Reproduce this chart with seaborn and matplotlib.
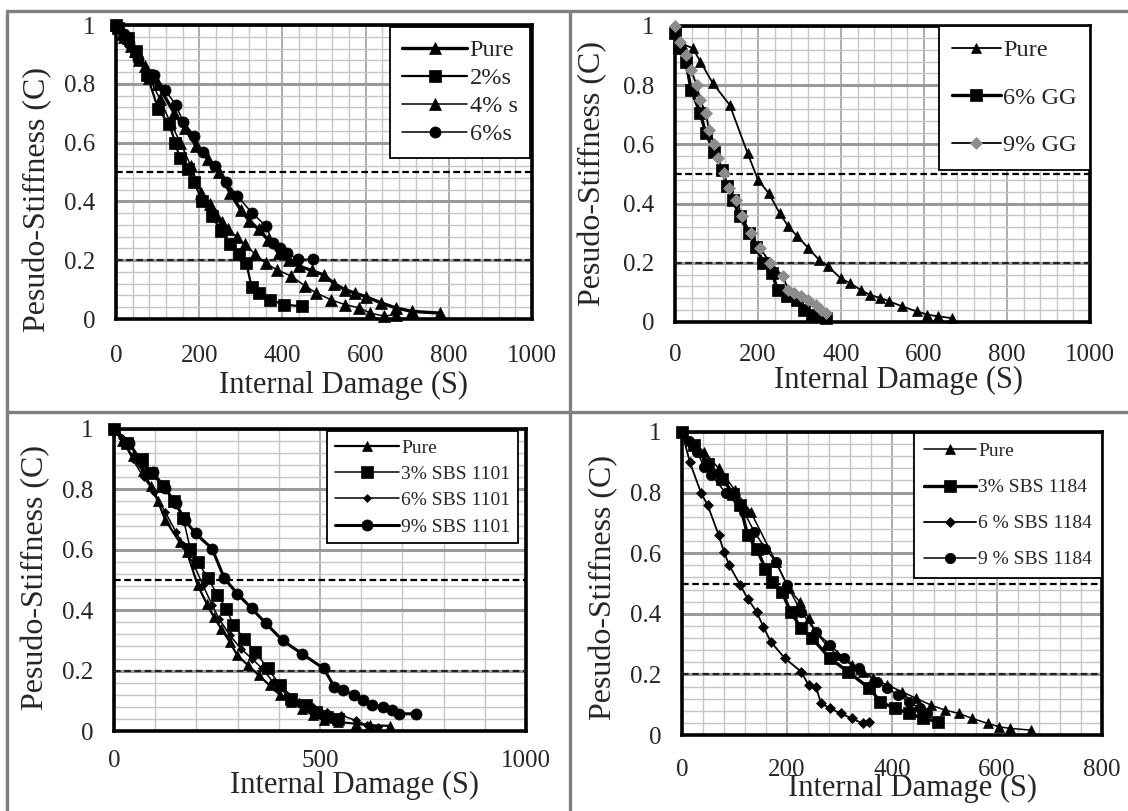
import matplotlib
matplotlib.use("Agg")
import matplotlib.pyplot as plt
from matplotlib.lines import Line2D
from matplotlib.ticker import MultipleLocator, FuncFormatter
import seaborn as sns

# ----------------------------
# DATA
# ----------------------------

# panel 1 : sulfur
p1_pure_x = [0, 20, 45, 70, 100, 140, 165, 192, 220, 248, 274, 300, 320, 343, 365, 391, 415, 440,
             470, 499, 525, 550, 575, 602, 637, 672, 711, 780]
p1_pure_y = [1.0, 0.96, 0.91, 0.86, 0.80, 0.70, 0.65, 0.59, 0.545, 0.50, 0.43, 0.37, 0.335, 0.305,
             0.27, 0.225, 0.20, 0.18, 0.165, 0.15, 0.12, 0.10, 0.088, 0.075, 0.055, 0.038, 0.026, 0.02]
p1_2s_x = [0, 6, 28, 49, 75, 101, 127, 143, 153, 172, 188, 207, 231, 252, 274, 295, 313, 326, 343,
           369, 404, 447]
p1_2s_y = [1.0, 0.99, 0.955, 0.91, 0.83, 0.715, 0.664, 0.60, 0.547, 0.51, 0.467, 0.40, 0.35, 0.30,
           0.254, 0.22, 0.19, 0.11, 0.089, 0.066, 0.049, 0.043]
p1_4s_x = [0, 15, 35, 55, 80, 105, 130, 155, 180, 205, 225, 240, 255, 270, 290, 309, 335, 360, 386,
           421, 455, 481, 516, 550, 585, 611, 645, 672]
p1_4s_y = [1.0, 0.97, 0.93, 0.88, 0.82, 0.75, 0.67, 0.60, 0.52, 0.43, 0.39, 0.353, 0.33, 0.305, 0.28,
           0.254, 0.22, 0.19, 0.168, 0.146, 0.112, 0.089, 0.066, 0.049, 0.038, 0.02, 0.01, 0.015]
p1_6s_x = [0, 19, 32, 54, 92, 118, 144, 162, 188, 209, 239, 265, 291, 326, 360, 378, 395, 412, 438, 473]
p1_6s_y = [1.0, 0.97, 0.94, 0.886, 0.83, 0.78, 0.727, 0.67, 0.624, 0.567, 0.52, 0.465, 0.42, 0.362,
           0.317, 0.26, 0.24, 0.225, 0.203, 0.203]

# panel 2 : GG
p2_pure_x = [0, 17, 43, 61, 91, 132, 175, 200, 226, 252, 273, 295, 321, 347, 369, 399, 421, 447, 469,
             495, 516, 547, 582, 608, 634, 668]
p2_pure_y = [1.0, 0.94, 0.925, 0.88, 0.807, 0.733, 0.57, 0.48, 0.435, 0.368, 0.323, 0.289, 0.25, 0.21,
             0.188, 0.148, 0.132, 0.109, 0.092, 0.081, 0.07, 0.053, 0.036, 0.025, 0.019, 0.013]
p2_gg6_x = [0, 9, 26, 39, 61, 74, 95, 113, 126, 139, 156, 178, 195, 213, 234, 247, 269, 295, 312, 330,
            347, 365]
p2_gg6_y = [0.975, 0.925, 0.88, 0.784, 0.705, 0.638, 0.576, 0.514, 0.458, 0.413, 0.357, 0.30, 0.255,
            0.20, 0.165, 0.109, 0.087, 0.075, 0.042, 0.025, 0.019, 0.013]
p2_gg9_x = [0, 13, 26, 39, 52, 61, 74, 82, 95, 104, 117, 130, 148, 161, 182, 204, 230, 260, 273, 286,
            304, 321, 339, 352, 365]
p2_gg9_y = [1.0, 0.947, 0.902, 0.852, 0.80, 0.75, 0.705, 0.65, 0.60, 0.553, 0.503, 0.452, 0.413, 0.357,
            0.30, 0.25, 0.20, 0.154, 0.109, 0.098, 0.087, 0.075, 0.058, 0.042, 0.03]

# panel 3 : SBS 1101
p3_pure_x = [0, 20, 45, 70, 90, 107, 124, 159, 177, 203, 225, 242, 260, 281, 299, 325, 351, 378, 404,
             430, 456, 483, 509, 544, 587, 622, 670]
p3_pure_y = [1.0, 0.96, 0.91, 0.86, 0.81, 0.76, 0.70, 0.626, 0.593, 0.483, 0.422, 0.378, 0.339, 0.295,
             0.251, 0.218, 0.185, 0.151, 0.118, 0.096, 0.074, 0.052, 0.035, 0.03, 0.024, 0.019, 0.017]
p3_s3_x = [0, 32, 67, 89, 120, 146, 168, 185, 203, 229, 251, 273, 290, 316, 343, 373, 404, 430, 465,
           491, 517, 544]
p3_s3_y = [1.0, 0.953, 0.90, 0.853, 0.81, 0.76, 0.704, 0.604, 0.56, 0.505, 0.45, 0.405, 0.35, 0.306,
           0.262, 0.207, 0.151, 0.107, 0.085, 0.063, 0.046, 0.041]
p3_s6_x = [0, 19, 45, 72, 98, 124, 150, 168, 194, 216, 238, 255, 281, 308, 334, 360, 386, 421, 448,
           483, 517, 552, 587, 614, 640]
p3_s6_y = [1.0, 0.97, 0.90, 0.84, 0.79, 0.726, 0.66, 0.615, 0.55, 0.483, 0.417, 0.372, 0.317, 0.273,
           0.24, 0.207, 0.162, 0.118, 0.096, 0.08, 0.063, 0.052, 0.035, 0.019, 0.013]
p3_s9_x = [0, 37, 67, 94, 124, 150, 172, 198, 238, 268, 299, 334, 369, 409, 456, 509, 535, 557, 583,
           605, 627, 653, 675, 692, 732]
p3_s9_y = [1.0, 0.953, 0.89, 0.858, 0.803, 0.754, 0.698, 0.654, 0.604, 0.505, 0.455, 0.406, 0.356,
           0.30, 0.256, 0.207, 0.146, 0.135, 0.118, 0.102, 0.085, 0.08, 0.069, 0.057, 0.057]

# panel 4 : SBS 1184
p4_pure_x = [0, 42, 70, 100, 131, 179, 203, 224, 241, 255, 275, 296, 323, 344, 364, 391, 419, 446,
             474, 501, 528, 552, 583, 604, 624, 665]
p4_pure_y = [1.0, 0.934, 0.88, 0.81, 0.736, 0.571, 0.484, 0.44, 0.385, 0.34, 0.297, 0.264, 0.231,
             0.209, 0.187, 0.165, 0.143, 0.121, 0.099, 0.082, 0.071, 0.055, 0.038, 0.027, 0.022, 0.016]
p4_s3_x = [0, 22, 49, 77, 97, 111, 125, 142, 159, 172, 190, 207, 227, 248, 282, 316, 357, 378, 405,
           432, 460, 487]
p4_s3_y = [1.0, 0.956, 0.896, 0.846, 0.797, 0.758, 0.659, 0.615, 0.549, 0.505, 0.473, 0.407, 0.352,
           0.319, 0.253, 0.209, 0.154, 0.11, 0.088, 0.071, 0.055, 0.044]
p4_s6_x = [0, 15, 36, 49, 70, 80, 90, 111, 125, 142, 155, 169, 196, 227, 241, 255, 265, 282, 302,
           323, 344, 357]
p4_s6_y = [1.0, 0.90, 0.80, 0.758, 0.659, 0.604, 0.56, 0.495, 0.45, 0.407, 0.357, 0.308, 0.253,
           0.209, 0.165, 0.159, 0.104, 0.088, 0.071, 0.055, 0.038, 0.044]
p4_s9_x = [0, 14, 29, 42, 56, 83, 118, 138, 159, 179, 200, 227, 255, 282, 309, 337, 371, 391, 412,
           432, 453, 467, 487]
p4_s9_y = [1.0, 0.97, 0.934, 0.885, 0.857, 0.80, 0.736, 0.67, 0.615, 0.571, 0.495, 0.407, 0.34,
           0.297, 0.253, 0.22, 0.176, 0.154, 0.132, 0.11, 0.088, 0.071, 0.044]

# ----------------------------
# STYLE
# ----------------------------

sns.set_style("white")
plt.rcParams["font.family"] = ["Liberation Serif", "DejaVu Serif"]

W, H = 1128, 811
fig = plt.figure(figsize=(W / 100, H / 100), dpi=100)


def px_axes(left, right, top, bottom):
    return fig.add_axes([left / W, 1 - bottom / H, (right - left) / W, (bottom - top) / H])


def series(ax, x, y, label, marker, ms, lw, mcolor="black"):
    sns.lineplot(x=x, y=y, ax=ax, label=label, color="black", marker=marker, markersize=ms,
                 markerfacecolor=mcolor, markeredgecolor=mcolor, markeredgewidth=0.5,
                 linewidth=lw, sort=False, estimator=None, clip_on=False, zorder=5)


def setup(ax, xmax, xmajor, xminor, xpad):
    ax.set_xlim(0, xmax)
    ax.set_ylim(0, 1)
    ax.xaxis.set_major_locator(MultipleLocator(xmajor))
    ax.xaxis.set_minor_locator(MultipleLocator(xminor))
    ax.yaxis.set_major_locator(MultipleLocator(0.2))
    ax.yaxis.set_minor_locator(MultipleLocator(0.04))
    ax.yaxis.set_major_formatter(FuncFormatter(lambda v, p: f"{v:g}"))
    ax.grid(which="major", axis="y", color="#9a9a9a", lw=2.2)
    ax.grid(which="major", axis="x", color="#adadad", lw=1.4)
    ax.grid(which="minor", color="#c6c6c6", lw=1.0)
    ax.set_axisbelow(True)
    for sp in ax.spines.values():
        sp.set_color("black")
        sp.set_linewidth(2.6)
    ax.tick_params(axis="x", which="major", direction="out", length=6, width=2.6,
                   labelsize=18, pad=xpad)
    ax.tick_params(axis="x", which="minor", direction="in", length=4, width=2.6)
    ax.tick_params(axis="y", which="major", direction="out", length=5, width=2.6,
                   labelsize=18, pad=10)
    ax.tick_params(axis="y", which="minor", length=0)
    ax.axhline(0.5, color="black", ls=(0, (3, 1.6)), lw=1.6, zorder=3)
    ax.axhline(0.2, color="#222222", ls=(0, (3, 1.6)), lw=1.6, zorder=3)


def labels(ax, xl, yl):
    ax.set_xlabel("Internal Damage (S)", fontsize=22)
    ax.set_ylabel("Pesudo-Stiffness (C)", fontsize=23)
    ax.xaxis.set_label_coords(*xl)
    ax.yaxis.set_label_coords(*yl)


def legend(ax, anchor, fs, spacing, hl, bpad):
    leg = ax.legend(loc="upper right", bbox_to_anchor=anchor, frameon=True, fancybox=False,
                    edgecolor="black", framealpha=1, fontsize=fs, handlelength=hl,
                    handletextpad=0.1, labelspacing=spacing, borderpad=bpad,
                    borderaxespad=0, numpoints=1)
    leg.get_frame().set_linewidth(1.3)
    leg.set_zorder(10)


# ----------------------------
# PANEL 1
# ----------------------------
ax1 = px_axes(116, 532, 25, 319)
setup(ax1, 1000, 200, 40, 13)
series(ax1, p1_pure_x, p1_pure_y, "Pure", "^", 8, 2.4)
series(ax1, p1_2s_x, p1_2s_y, "2%s", "s", 8, 1.6)
series(ax1, p1_4s_x, p1_4s_y, "4% s", "^", 8, 1.1)
series(ax1, p1_6s_x, p1_6s_y, "6%s", "o", 8, 1.1)
labels(ax1, (0.547, -0.177), (-0.154, 0.405))
legend(ax1, (0.995, 0.993), 17.5, 0.25, 2.7, 0.5)

# ----------------------------
# PANEL 2
# ----------------------------
ax2 = px_axes(675, 1090, 26, 322)
setup(ax2, 1000, 200, 40, 10)
series(ax2, p2_pure_x, p2_pure_y, "Pure", "^", 7.5, 1.3)
series(ax2, p2_gg6_x, p2_gg6_y, "6% GG", "s", 8, 2.4)
series(ax2, p2_gg9_x, p2_gg9_y, "9% GG", "D", 6, 1.3, mcolor="#8c8c8c")
labels(ax2, (0.538, -0.149), (-0.164, 0.503))
legend(ax2, (1.0, 1.0), 17.5, 1.05, 2.0, 0.55)

# ----------------------------
# PANEL 3
# ----------------------------
ax3 = px_axes(114, 526, 429, 731)
setup(ax3, 1000, 500, 100, 8)
series(ax3, p3_pure_x, p3_pure_y, "Pure", "^", 7.5, 1.6)
series(ax3, p3_s3_x, p3_s3_y, "3% SBS 1101", "s", 8, 1.1)
series(ax3, p3_s6_x, p3_s6_y, "6% SBS 1101", "D", 4.5, 1.1)
series(ax3, p3_s9_x, p3_s9_y, "9% SBS 1101", "o", 8, 2.2)
labels(ax3, (0.583, -0.132), (-0.155, 0.507))
legend(ax3, (0.981, 0.993), 14, 0.45, 3.3, 0.4)

# ----------------------------
# PANEL 4
# ----------------------------
ax4 = px_axes(682, 1102, 432, 735)
setup(ax4, 800, 200, 40, 11)
series(ax4, p4_pure_x, p4_pure_y, "Pure", "^", 7.5, 1.1)
series(ax4, p4_s3_x, p4_s3_y, "3% SBS 1184", "s", 9, 2.4)
series(ax4, p4_s6_x, p4_s6_y, "6 % SBS 1184", "D", 5, 1.3)
series(ax4, p4_s9_x, p4_s9_y, "9 % SBS 1184", "o", 7.5, 1.1)
labels(ax4, (0.55, -0.129), (-0.152, 0.488))
legend(ax4, (1.0, 0.997), 14, 0.95, 2.7, 0.5)

# ----------------------------
# TABLE BORDERS
# ----------------------------
grey = "#7f7f7f"
for xs, ys in [([7, W], [11, 11]), ([7, 7], [11, H]), ([570, 570], [11, H]), ([7, W], [412, 412])]:
    fig.add_artist(Line2D([x / W for x in xs], [1 - y / H for y in ys], color=grey, lw=2.4,
                          transform=fig.transFigure))

fig.savefig("out.png", dpi=100)
